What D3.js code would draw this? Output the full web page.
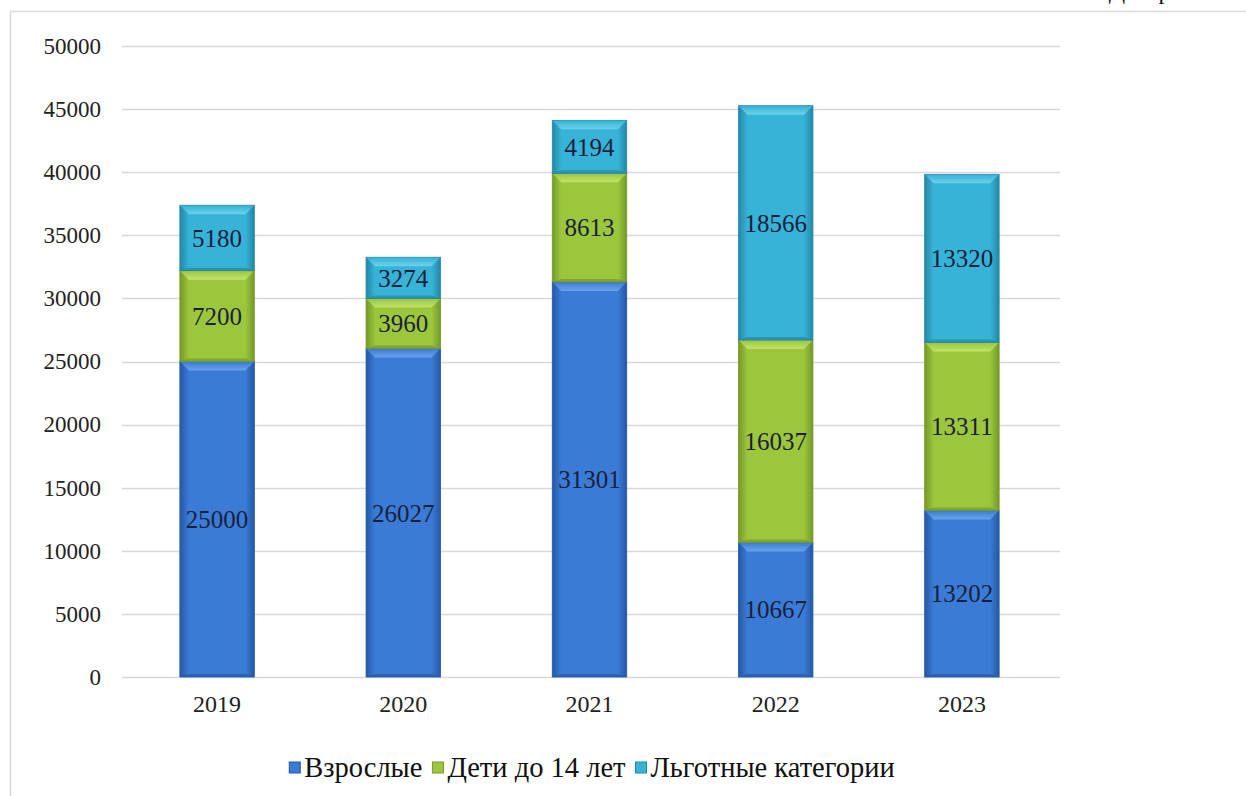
<!DOCTYPE html>
<html>
<head>
<meta charset="utf-8">
<script src="https://cdn.jsdelivr.net/npm/d3@7"></script>
<style>
  body { margin: 0; background: #fff; }
</style>
</head>
<body>
<script>
// chart data
const years = ["2019", "2020", "2021", "2022", "2023"];
const adults = [25000, 26027, 31301, 10667, 13202];
const children = [7200, 3960, 8613, 16037, 13311];
const benefit = [5180, 3274, 4194, 18566, 13320];
const seriesNames = ["Взрослые", "Дети до 14 лет", "Льготные категории"];
const yTicks = [0, 5000, 10000, 15000, 20000, 25000, 30000, 35000, 40000, 45000, 50000];

const FONT = "'Liberation Serif', 'Times New Roman', serif";

const colors = [
    { base: "#3a7bd5", light: "#6aa3ea", dark: "#2458a6" },
    { base: "#9cc63c", light: "#c3e36c", dark: "#74992a" },
    { base: "#36b3d6", light: "#6dd2ec", dark: "#2387a8" }
];

const W = 1246, H = 796;
const svg = d3.select("body").append("svg")
    .attr("width", W)
    .attr("height", H);

// frame of the chart area (cut off on the right and bottom)
svg.append("rect")
    .attr("x", 10.5).attr("y", 11.5)
    .attr("width", W + 20).attr("height", H + 20)
    .attr("fill", "none")
    .attr("stroke", "#d9d9d9")
    .attr("stroke-width", 1.5);

// caption cut off at the top edge
svg.append("text")
    .attr("x", 1240).attr("y", -1)
    .attr("text-anchor", "end")
    .style("font-family", FONT)
    .style("font-size", "24px")
    .attr("fill", "#111")
    .text("Диаграмма 1");

const x = d3.scaleBand()
    .domain(years)
    .range([124, 1055])
    .paddingInner(0.6)
    .paddingOuter(0.3);

const y = d3.scaleLinear()
    .domain([0, 50000])
    .range([677, 46]);

// gridlines
svg.append("g")
    .selectAll("line")
    .data(yTicks)
    .enter().append("line")
    .attr("x1", 122).attr("x2", 1060)
    .attr("y1", d => Math.round(y(d)) + 0.5)
    .attr("y2", d => Math.round(y(d)) + 0.5)
    .attr("stroke", "#d9d9d9")
    .attr("stroke-width", 1.5);

// y axis labels
const yAxis = svg.append("g")
    .attr("transform", "translate(122,0)")
    .call(d3.axisLeft(y).tickValues(yTicks).tickSize(0).tickPadding(21).tickFormat(d3.format("d")));
yAxis.select(".domain").remove();
yAxis.selectAll("text")
    .style("font-family", FONT)
    .style("font-size", "23px")
    .attr("fill", "#222");

// x axis labels
const xAxis = svg.append("g")
    .attr("transform", "translate(0,677)")
    .call(d3.axisBottom(x).tickSize(0).tickPadding(18));
xAxis.select(".domain").remove();
xAxis.selectAll("text")
    .style("font-family", FONT)
    .style("font-size", "24px")
    .attr("fill", "#222");

// stacked data
const table = years.map((yr, i) => ({ year: yr, s0: adults[i], s1: children[i], s2: benefit[i] }));
const stack = d3.stack().keys(["s0", "s1", "s2"])(table);

const defs = svg.append("defs");
colors.forEach((c, k) => {
    const g = defs.append("linearGradient")
        .attr("id", "grad" + k)
        .attr("x1", "0").attr("x2", "1").attr("y1", "0").attr("y2", "0");
    g.append("stop").attr("offset", "0").attr("stop-color", c.dark);
    g.append("stop").attr("offset", "0.12").attr("stop-color", c.base);
    g.append("stop").attr("offset", "0.88").attr("stop-color", c.base);
    g.append("stop").attr("offset", "1").attr("stop-color", c.dark);
    const t = defs.append("linearGradient")
        .attr("id", "top" + k)
        .attr("x1", "0").attr("x2", "0").attr("y1", "0").attr("y2", "1");
    t.append("stop").attr("offset", "0").attr("stop-color", c.base);
    t.append("stop").attr("offset", "1").attr("stop-color", c.light);
});

const bw = x.bandwidth();
const bev = 9;

stack.forEach((layer, k) => {
    const g = svg.append("g").attr("class", "series_" + k);
    layer.forEach(d => {
        const x0 = x(d.data.year);
        const yTop = y(d[1]);
        const yBot = y(d[0]);
        const h = yBot - yTop;
        // body
        g.append("rect")
            .attr("x", x0).attr("y", yTop)
            .attr("width", bw).attr("height", h)
            .attr("fill", "url(#grad" + k + ")")
            .attr("stroke", colors[k].dark)
            .attr("stroke-width", 0.8);
        // top bevel highlight
        g.append("polygon")
            .attr("points", [[x0 + 0.5, yTop + 0.5], [x0 + bw - 0.5, yTop + 0.5], [x0 + bw - bev, yTop + bev], [x0 + bev, yTop + bev]].join(" "))
            .attr("fill", "url(#top" + k + ")");
        // bottom bevel shadow
        g.append("polygon")
            .attr("points", [[x0, yBot], [x0 + bw, yBot], [x0 + bw - bev, yBot - 3], [x0 + bev, yBot - 3]].join(" "))
            .attr("fill", colors[k].dark)
            .attr("opacity", 0.7);
        // value label
        g.append("text")
            .attr("x", x0 + bw / 2)
            .attr("y", (yTop + yBot) / 2)
            .attr("dy", "0.35em")
            .attr("text-anchor", "middle")
            .style("font-family", FONT)
            .style("font-size", "25px")
            .attr("fill", "#1b1f3b")
            .text(d[1] - d[0]);
    });
});

// legend
const legend = svg.append("g").attr("class", "legend");
let lx = 0;
seriesNames.forEach((name, k) => {
    const item = legend.append("g").attr("transform", "translate(" + lx + ",0)");
    item.append("rect")
        .attr("x", 0).attr("y", -15)
        .attr("width", 11).attr("height", 11)
        .attr("fill", colors[k].base)
        .attr("stroke", colors[k].dark)
        .attr("stroke-width", 1);
    const t = item.append("text")
        .attr("x", 15).attr("y", 0)
        .style("font-family", FONT)
        .style("font-size", "28.5px")
        .attr("fill", "#111")
        .text(name);
    lx += 15 + t.node().getComputedTextLength() + 10;
});
legend.attr("transform", "translate(" + (592 - (lx - 10) / 2) + ",777)");
</script>
</body>
</html>
